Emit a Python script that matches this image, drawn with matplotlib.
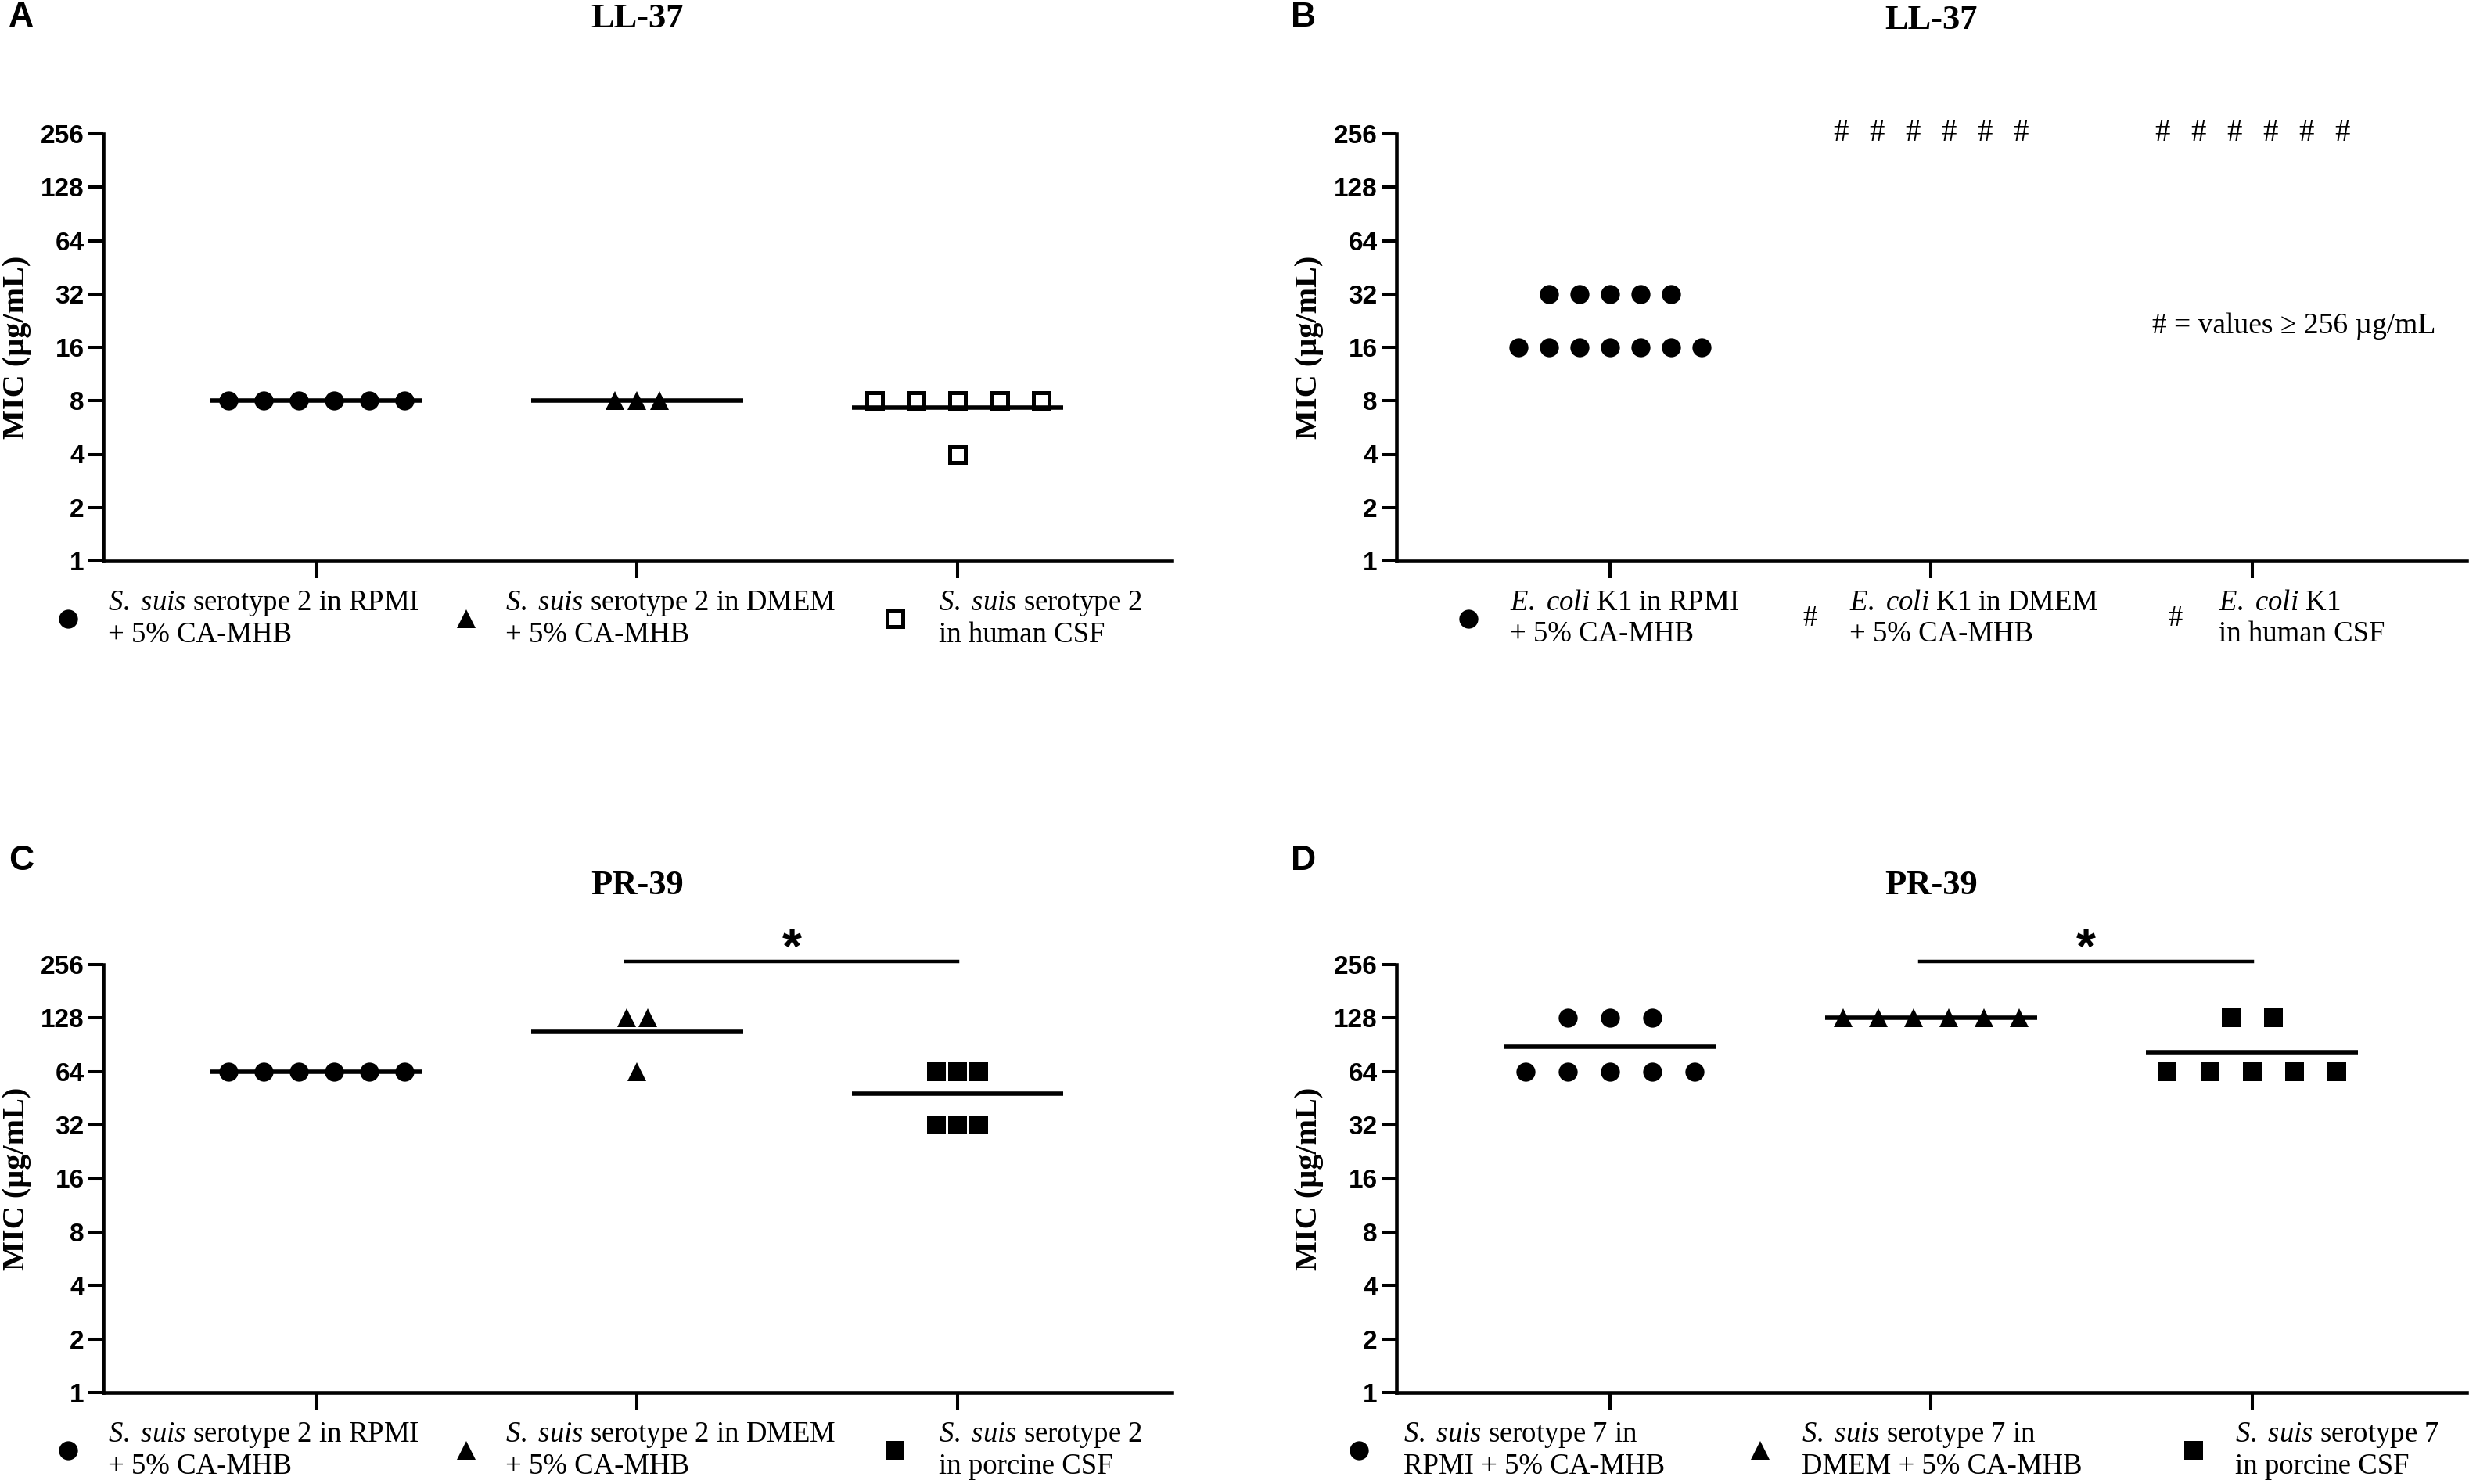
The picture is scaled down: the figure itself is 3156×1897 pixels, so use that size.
import numpy as np
import matplotlib
matplotlib.use('Agg')
import matplotlib.pyplot as plt
from matplotlib.ticker import FixedLocator, NullLocator

plt.rcParams['mathtext.fontset'] = 'custom'
plt.rcParams['mathtext.rm'] = 'Liberation Serif'
plt.rcParams['mathtext.it'] = 'Liberation Serif:italic'
plt.rcParams['mathtext.bf'] = 'Liberation Serif:bold'

W, H, DPI = 3156, 1897, 100
SERIF = 'Liberation Serif'
SANS = 'Liberation Sans'

# ---- data: MIC values (µg/mL), one entry per replicate ----
CATS = [0, 1, 2]
Y_TICKS = [1, 2, 4, 8, 16, 32, 64, 128, 256]

a_rpmi = [8, 8, 8, 8, 8, 8]
a_dmem = [8, 8, 8]
a_csf = [8, 8, 8, 8, 8, 4]
a_labels = [r'$\mathit{S.\ suis}$ serotype 2 in RPMI' + '\n+ 5% CA-MHB',
            r'$\mathit{S.\ suis}$ serotype 2 in DMEM' + '\n+ 5% CA-MHB',
            r'$\mathit{S.\ suis}$ serotype 2' + '\nin human CSF']

b_rpmi = [32, 32, 32, 32, 32, 16, 16, 16, 16, 16, 16, 16]
b_dmem = [256, 256, 256, 256, 256, 256]   # >= 256, drawn as '#'
b_csf = [256, 256, 256, 256, 256, 256]    # >= 256, drawn as '#'
b_labels = [r'$\mathit{E.\ coli}$ K1 in RPMI' + '\n+ 5% CA-MHB',
            r'$\mathit{E.\ coli}$ K1 in DMEM' + '\n+ 5% CA-MHB',
            r'$\mathit{E.\ coli}$ K1' + '\nin human CSF']

c_rpmi = [64, 64, 64, 64, 64, 64]
c_dmem = [128, 128, 64]
c_csf = [64, 64, 64, 32, 32, 32]
c_labels = [r'$\mathit{S.\ suis}$ serotype 2 in RPMI' + '\n+ 5% CA-MHB',
            r'$\mathit{S.\ suis}$ serotype 2 in DMEM' + '\n+ 5% CA-MHB',
            r'$\mathit{S.\ suis}$ serotype 2' + '\nin porcine CSF']

d_rpmi = [128, 128, 128, 64, 64, 64, 64, 64]
d_dmem = [128, 128, 128, 128, 128, 128]
d_csf = [128, 128, 64, 64, 64, 64, 64]
d_labels = [r'$\mathit{S.\ suis}$ serotype 7 in' + '\nRPMI + 5% CA-MHB',
            r'$\mathit{S.\ suis}$ serotype 7 in' + '\nDMEM + 5% CA-MHB',
            r'$\mathit{S.\ suis}$ serotype 7' + '\nin porcine CSF']

titles = ['LL-37', 'LL-37', 'PR-39', 'PR-39']
letters = ['A', 'B', 'C', 'D']
sig_pair = [None, None, (1, 2), (1, 2)]
sig_text = ['', '', '*', '*']
note_b = '# = values \u2265 256 \u00b5g/mL'

# ---- styles ----
MK = {
    'circle': dict(marker='o', ms=17.5, mfc='black', mec='black', mew=0),
    'tri': dict(marker='^', ms=17, mfc='black', mec='black', mew=0),
    'osq': dict(marker='s', ms=14, mfc='white', mec='black', mew=3.6),
    'sq': dict(marker='s', ms=17, mfc='black', mec='black', mew=0),
}
LAB_FS = 26.5
LAB_Y = -0.135

# pixel boxes (left, right, top, bottom)
BOXES = [(132, 1498, 171, 717), (1785, 3153, 171, 717),
         (132, 1498, 1233, 1780), (1785, 3153, 1233, 1780)]
LETTER_POS = [(27, 23), (1666, 23), (27, 1100), (1666, 1100)]
TITLE_Y = [24, 26, 1132, 1132]
YLAB_X = [22, 1673]

panels = [
    dict(groups=[a_rpmi, a_dmem, a_csf], labels=a_labels,
         kinds=['circle', 'tri', 'osq'], spread=[0.11, 0.07, 0.13],
         mean=True, text_x=[-0.65, -0.41, -0.06], mk_x=[-0.776, -0.532, -0.195]),
    dict(groups=[b_rpmi, b_dmem, b_csf], labels=b_labels,
         kinds=['circle', 'hash', 'hash'], spread=[0.095, 0.112, 0.112],
         mean=False, text_x=[-0.312, -0.254, -0.105], mk_x=[-0.441, -0.378, -0.239]),
    dict(groups=[c_rpmi, c_dmem, c_csf], labels=c_labels,
         kinds=['circle', 'tri', 'sq'], spread=[0.11, 0.066, 0.066],
         mean=True, text_x=[-0.65, -0.41, -0.06], mk_x=[-0.776, -0.532, -0.195]),
    dict(groups=[d_rpmi, d_dmem, d_csf], labels=d_labels,
         kinds=['circle', 'tri', 'sq'], spread=[0.132, 0.11, 0.132],
         mean=True, text_x=[-0.644, -0.402, -0.054], mk_x=[-0.783, -0.532, -0.183]),
]

fig = plt.figure(figsize=(W / DPI, H / DPI), dpi=DPI)

for pi, p in enumerate(panels):
    l, r, t, b = BOXES[pi]
    ax = fig.add_axes([l / W, 1 - b / H, (r - l) / W, (b - t) / H])
    ax.set_yscale('log', base=2)
    ax.set_ylim(1, 256)
    ax.set_xlim(-0.665, 2.668)
    ax.yaxis.set_major_locator(FixedLocator(Y_TICKS))
    ax.yaxis.set_minor_locator(NullLocator())
    ax.set_yticklabels([str(v) for v in Y_TICKS], fontsize=24,
                       fontweight='bold', family=SANS)
    ax.set_xticks(CATS)
    ax.set_xticklabels([])
    for sp in ('top', 'right'):
        ax.spines[sp].set_visible(False)
    for sp in ('left', 'bottom'):
        ax.spines[sp].set_linewidth(3.3)
    ax.tick_params(axis='y', length=13.5, width=2.9, pad=4)
    ax.tick_params(axis='x', length=16, width=2.9)

    for ci, vals in enumerate(p['groups']):
        x0 = CATS[ci]
        kind = p['kinds'][ci]
        arr = np.array(vals, dtype=float)
        # spread equal values side by side, centred on the category
        for v in sorted(set(vals), reverse=True):
            n = int(np.sum(arr == v))
            xs = x0 + (np.arange(n) - (n - 1) / 2) * p['spread'][ci]
            if kind == 'hash':
                for xx in xs:
                    ax.text(xx, v, '#', ha='center', va='center', fontsize=28,
                            family=SERIF, clip_on=False)
            else:
                ax.plot(xs, [v] * n, linestyle='none', clip_on=False, zorder=3,
                        **MK[kind])
        if p['mean']:
            ax.hlines(arr.mean(), x0 - 0.33, x0 + 0.33, color='black',
                      linewidth=4, zorder=4)

        # category label with its symbol
        xt = ax.get_xaxis_transform()
        ax.text(x0 + p['text_x'][ci], LAB_Y, p['labels'][ci], transform=xt,
                ha='left', va='center', fontsize=LAB_FS, family=SERIF,
                linespacing=1.18, clip_on=False)
        if kind == 'hash':
            ax.text(x0 + p['mk_x'][ci], LAB_Y, '#', transform=xt, ha='center',
                    va='center', fontsize=LAB_FS, family=SERIF, clip_on=False)
        else:
            ax.plot([x0 + p['mk_x'][ci]], [LAB_Y], transform=xt, clip_on=False,
                    linestyle='none', **MK[kind])

    if sig_pair[pi] is not None:
        i, j = sig_pair[pi]
        x1, x2 = CATS[i] - 0.035, CATS[j]
        ax.plot([x1, x2], [267, 267], color='black', linewidth=3.2,
                clip_on=False)
        ax.text((x1 + x2) / 2, 2 ** 8.02, sig_text[pi], ha='center',
                va='baseline', fontsize=46, fontweight='bold',
                family=SANS, clip_on=False)

    if pi == 1:
        ax.text(0.706, 0.549, note_b, transform=ax.transAxes, ha='left',
                va='center', fontsize=27, family=SERIF)

    # title, panel letter, y label
    fig.text((l + r) / 2 / W, 1 - TITLE_Y[pi] / H, titles[pi], ha='center',
             va='center', fontsize=32, fontweight='bold', family=SERIF)
    lx, ly = LETTER_POS[pi]
    fig.text(lx / W, 1 - ly / H, letters[pi], ha='center', va='center',
             fontsize=32, fontweight='bold', family=SANS)
    fig.text(YLAB_X[pi % 2] / W, 1 - (t + b) / 2 / H, 'MIC (\u00b5g/mL)',
             rotation=90, ha='center', va='center', fontsize=29,
             fontweight='bold', family=SERIF)

fig.savefig('out.png', dpi=DPI)
